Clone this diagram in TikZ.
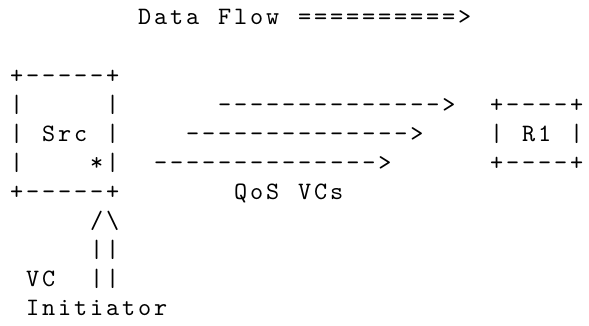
\documentclass[tikz,border=0pt]{standalone}
\usepackage{fontspec}
\newfontfamily\asciifont{lmmono10-regular}[Extension=.otf,LetterSpace=11.6]
\usetikzlibrary{positioning}
\tikzset{ascii/.style={anchor=base west,inner sep=0pt,outer sep=0pt,font=\asciifont\fontsize{25}{29}\selectfont}}

\begin{document}
\begin{tikzpicture}[x=16pt, y=-29pt]
	\useasboundingbox (-0.625,-0.862) rectangle (36.1875,10.345);
	% heading
	\node[ascii] (data)      at (8,0)  {Data};
	\node[ascii] (flow)      at (13,0) {Flow};
	\node[ascii] (flowarrow) at (18,0) {==========>};
	% source box
	\node[ascii] (srctop)    at (0,2)  {+-----+};
	\node[ascii] (srcla)     at (0,3)  {|};
	\node[ascii] (srcra)     at (6,3)  {|};
	\node[ascii] (srclb)     at (0,4)  {|};
	\node[ascii] (src)       at (2,4)  {Src};
	\node[ascii] (srcrb)     at (6,4)  {|};
	\node[ascii] (srclc)     at (0,5)  {|};
	\node[ascii] (star)      at (5,5)  {*};
	\node[ascii] (srcrc)     at (6,5)  {|};
	\node[ascii] (srcbot)    at (0,6)  {+-----+};
	% QoS VCs
	\node[ascii] (vca)       at (13,3) {-------------->};
	\node[ascii] (vcb)       at (11,4) {-------------->};
	\node[ascii] (vcc)       at (9,5)  {-------------->};
	\node[ascii] (qos)       at (14,6) {QoS};
	\node[ascii] (vcs)       at (18,6) {VCs};
	% receiver box
	\node[ascii] (rtop)      at (30,3) {+----+};
	\node[ascii] (rl)        at (30,4) {|};
	\node[ascii] (r1)        at (32,4) {R1};
	\node[ascii] (rr)        at (35,4) {|};
	\node[ascii] (rbot)      at (30,5) {+----+};
	% initiator
	\node[ascii] (tip)       at (5,7)  {/\textbackslash};
	\node[ascii] (shafta)    at (5,8)  {||};
	\node[ascii] (vc)        at (1,9)  {VC};
	\node[ascii] (shaftb)    at (5,9)  {||};
	\node[ascii] (initiator) at (1,10) {Initiator};
\end{tikzpicture}
\end{document}
